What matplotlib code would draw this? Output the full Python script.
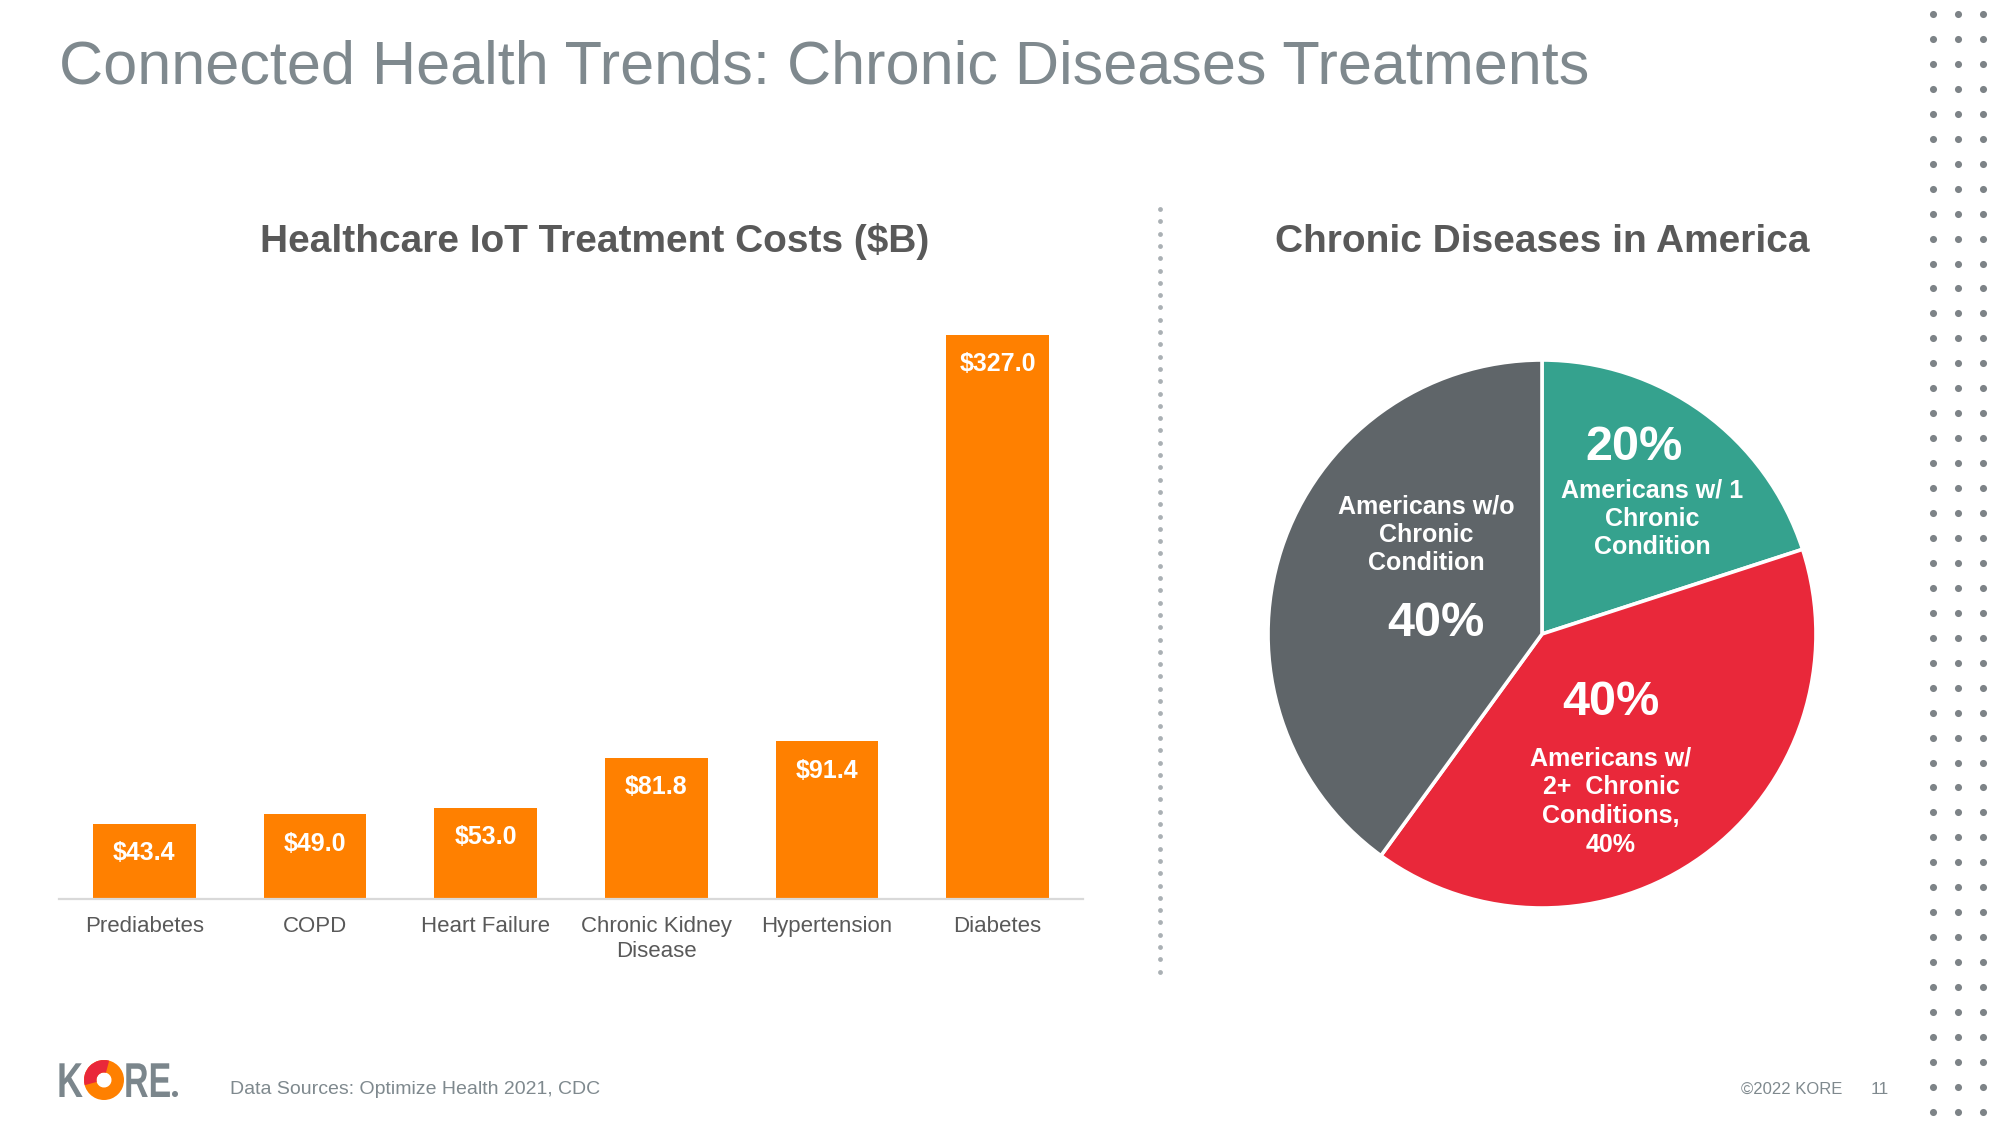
import numpy as np
import matplotlib
matplotlib.use("Agg")
import matplotlib.pyplot as plt
from matplotlib.patches import Wedge, PathPatch
from matplotlib.textpath import TextPath
from matplotlib.font_manager import FontProperties
from matplotlib.transforms import Affine2D

plt.rcParams['font.family'] = ['Liberation Sans', 'DejaVu Sans']

# bar chart data
categories = ["Prediabetes", "COPD", "Heart Failure", "Chronic Kidney\nDisease", "Hypertension", "Diabetes"]
costs = [43.4, 49.0, 53.0, 81.8, 91.4, 327.0]

# pie chart data
pie_shares = [20, 40, 40]
pie_colors = ["#35a28e", "#e9283a", "#5f6569"]
pie_pct = ["20%", "40%", "40%"]
pie_names = ["Americans w/ 1\nChronic\nCondition",
             "Americans w/\n2+  Chronic\nConditions,\n40%",
             "Americans w/o\nChronic\nCondition"]

ORANGE = "#ff8000"
TITLE_GRAY = "#7f898e"
DARK = "#595959"

W, H = 2000, 1125
fig = plt.figure(figsize=(20, 11.25), dpi=100)
fig.patch.set_facecolor("white")

# background layer in pixel coords for decorations
bg = fig.add_axes([0, 0, 1, 1])
bg.set_xlim(0, W)
bg.set_ylim(H, 0)
bg.axis("off")

# dotted pattern on the right edge
gx, gy = np.meshgrid([1933, 1958, 1983], np.arange(14, 1120, 24.95))
bg.scatter(gx.ravel(), gy.ravel(), s=26, color="#7d8387", linewidths=0)

# dotted separator between the two charts
sy = np.arange(209, 975, 12.3)
bg.scatter(np.full_like(sy, 1160), sy, s=12, color="#aab0b4", linewidths=0)

# title and chart headings
fig.text(59 / W, 1 - 84 / H, "Connected Health Trends: Chronic Diseases Treatments",
         fontsize=44, color=TITLE_GRAY, va="baseline", ha="left")
fig.text(595 / W, 1 - 242 / H, "Healthcare IoT Treatment Costs ($B)",
         fontsize=28, fontweight="bold", color=DARK, ha="center", va="center")
fig.text(1542 / W, 1 - 242 / H, "Chronic Diseases in America",
         fontsize=28, fontweight="bold", color=DARK, ha="center", va="center")

# bar chart
ax = fig.add_axes([59 / W, (H - 899) / H, 1024 / W, 599 / H])
x = np.arange(len(categories))
bars = ax.bar(x, costs, width=0.6, color=ORANGE)
ax.set_xlim(-0.5, len(categories) - 0.5)
ax.set_ylim(0, 347.3)
ax.set_xticks(x)
ax.set_xticklabels(categories, fontsize=16, color=DARK, linespacing=1.25)
ax.tick_params(axis="x", length=0, pad=12)
ax.set_yticks([])
for s in ["top", "right", "left"]:
    ax.spines[s].set_visible(False)
ax.spines["bottom"].set_color("#d9d9d9")
ax.spines["bottom"].set_linewidth(1.6)
for b, v in zip(bars, costs):
    ax.annotate(f"${v:.1f}", (b.get_x() + b.get_width() / 2, v),
                xytext=(0, -21), textcoords="offset points",
                ha="center", va="center", color="white",
                fontsize=18, fontweight="bold")

# pie chart
pax = fig.add_axes([(1542 - 274) / W, (H - 634 - 274) / H, 548 / W, 548 / H])
pax.pie(pie_shares, colors=pie_colors, startangle=90, counterclock=False,
        radius=1, wedgeprops=dict(edgecolor="white", linewidth=2.6))
pax.set_xlim(-1, 1)
pax.set_ylim(-1, 1)

# label positions (radius units)
pct_pos = [(0.336, 0.679), (0.252, -0.251), (-0.387, 0.037)]
name_pos = [(0.401, 0.420), (0.252, -0.612), (-0.423, 0.362)]
for p, (px, py), n, (nx, ny) in zip(pie_pct, pct_pos, pie_names, name_pos):
    pax.text(px, py, p, fontsize=35, fontweight="bold", color="white",
             ha="center", va="center")
    pax.text(nx, ny, n, fontsize=18, fontweight="bold", color="white",
             ha="center", va="center", linespacing=1.24)

# footer
fp = FontProperties(family="Liberation Sans", weight="bold")
logo_gray = "#7b868c"
def draw_word(txt, x0, base, sx, sy_):
    tp = TextPath((0, 0), txt, size=1, prop=fp)
    tr = Affine2D().scale(sx, -sy_).translate(x0, base)
    bg.add_patch(PathPatch(tr.transform_path(tp), color=logo_gray, lw=0))

draw_word("K", 57, 1097, 36, 49)
bg.add_patch(Wedge((104, 1080), 20, 0, 360, width=12.5, color=ORANGE, lw=0))
bg.add_patch(Wedge((104, 1080), 20, 165, 285, width=12.5, color="#e9283a", lw=0))
draw_word("RE", 124, 1097, 34, 49)
bg.add_patch(Wedge((175, 1094), 3, 0, 360, color=logo_gray, lw=0))

fig.text(230 / W, 1 - 1089 / H, "Data Sources: Optimize Health 2021, CDC",
         fontsize=14, color=TITLE_GRAY, va="center", ha="left")
fig.text(1842 / W, 1 - 1089 / H, "©2022 KORE", fontsize=12, color=TITLE_GRAY,
         va="center", ha="right")
fig.text(1880 / W, 1 - 1089 / H, "11", fontsize=12.5, color=TITLE_GRAY,
         va="center", ha="center")

fig.savefig("out.png", dpi=100, facecolor="white")
